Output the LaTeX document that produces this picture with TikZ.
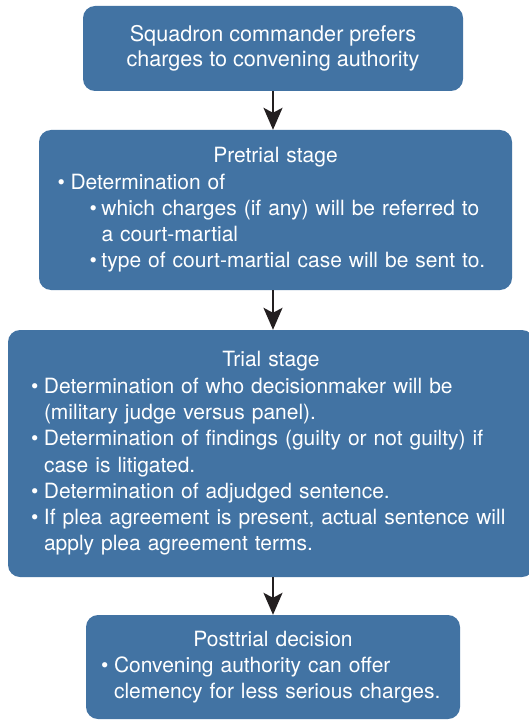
\documentclass[tikz,border=0pt]{standalone}
\usepackage{fontspec}
\setmainfont{TeX Gyre Heros}
\usetikzlibrary{positioning, arrows.meta}
\definecolor{stageblue}{RGB}{66,115,163}
\definecolor{arrowink}{RGB}{35,31,32}
\newcommand{\bitem}[1]{\par\hangindent=13pt\hangafter=1\noindent\makebox[13pt][l]{\textbullet}#1\par}
\newcommand{\bsubitem}[1]{\par\hangindent=44pt\hangafter=1\noindent\hspace*{32pt}\makebox[12pt][l]{\textbullet}#1\par}
\tikzset{
  stagebox/.style={rectangle, rounded corners=12pt, fill=stageblue, text=white,
    font=\fontsize{21}{26.3}\selectfont, inner sep=0pt},
  flowarrow/.style={-{Stealth[length=22pt,width=19pt,inset=5pt]}, line width=2pt, draw=arrowink, fill=arrowink}
}
\begin{document}
\begin{tikzpicture}[x=1pt,y=-1pt]
      \useasboundingbox (0,0) rectangle (528,722);

      \node[stagebox, minimum width=380pt, minimum height=85pt, align=center,
            font=\fontsize{21.6}{25.5}\selectfont] (prefer) at (273,48.5)
        {Squadron commander prefers\\charges to convening authority};

      \node[stagebox, minimum width=473pt, minimum height=160pt, text width=436pt, align=left] (pretrial) at (275.5,210)
        {{\centering Pretrial stage\par}
         \bitem{Determination of}
         \bsubitem{which charges (if any) will be referred to\newline a court-martial}
         \bsubitem{type of court-martial case will be sent to.}};

      \node[stagebox, minimum width=526pt, minimum height=247pt, text width=480pt, align=left] (trial) at (271,453.5)
        {{\centering Trial stage\par}
         \bitem{Determination of who decisionmaker will be\newline (military judge versus panel).}
         \bitem{Determination of findings (guilty or not guilty) if\newline case is litigated.}
         \bitem{Determination of adjudged sentence.}
         \bitem{If plea agreement is present, actual sentence will\newline apply plea agreement terms.}};

      \node[stagebox, minimum width=374pt, minimum height=104pt, text width=344pt, align=left] (posttrial) at (273,667)
        {{\centering Posttrial decision\par}
         \bitem{Convening authority can offer\newline clemency for less serious charges.}};

      \draw[flowarrow] (prefer.south -| 273,0) -- (pretrial.north -| 273,0);
      \draw[flowarrow] (pretrial.south -| 273,0) -- (trial.north -| 273,0);
      \draw[flowarrow] (trial.south -| 273,0) -- (posttrial.north -| 273,0);
\end{tikzpicture}
\end{document}
